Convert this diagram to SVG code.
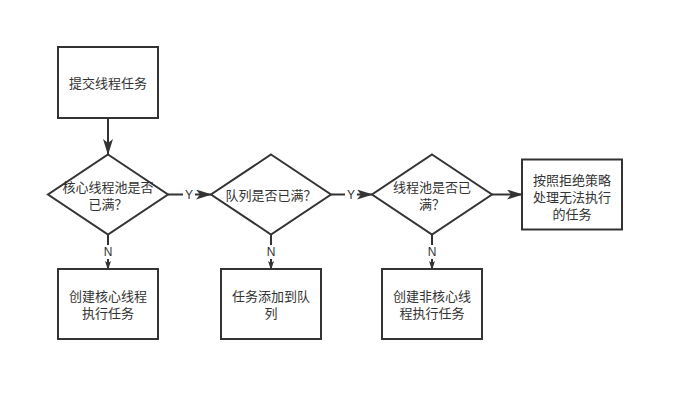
<svg xmlns="http://www.w3.org/2000/svg" width="684" height="401" viewBox="0 0 684 401">
<style>
.shape{fill:#fff;stroke:#333;stroke-width:2}
.t{font-family:"Liberation Sans","Noto Sans CJK SC",sans-serif;font-size:13px;fill:#333;text-anchor:middle;dominant-baseline:central}
.lbl{font-family:"Liberation Sans","Noto Sans CJK SC",sans-serif;font-size:12px;fill:#333;text-anchor:middle;dominant-baseline:central}
.edge{fill:none;stroke:#333;stroke-width:2}
.bg{fill:#fff}
</style>
<defs>
<marker id="big" markerUnits="userSpaceOnUse" viewBox="0 0 16 10" refX="15" refY="5" markerWidth="16" markerHeight="10" orient="auto">
<path d="M0,0 L16,5 L0,10 L4,5 Z" fill="#333"/>
</marker>
<marker id="small" markerUnits="userSpaceOnUse" viewBox="0 0 9 6" refX="8" refY="3" markerWidth="9" markerHeight="6" orient="auto">
<path d="M0,0 L9,3 L0,6 L2,3 Z" fill="#333"/>
</marker>
</defs>
<rect width="684" height="401" fill="#fff"/>
<g id="connectors">
<line class="edge" x1="108" y1="118" x2="108" y2="154" marker-end="url(#big)"/>
<line class="edge" x1="168" y1="194.5" x2="211" y2="194.5" marker-end="url(#big)"/>
<rect class="bg" x="183" y="187" width="12" height="15"/>
<text class="lbl" x="189" y="195">Y</text>
<line class="edge" x1="331" y1="194.5" x2="372" y2="194.5" marker-end="url(#big)"/>
<rect class="bg" x="345" y="187" width="12" height="15"/>
<text class="lbl" x="351" y="195">Y</text>
<line class="edge" x1="492" y1="194.5" x2="522" y2="194.5" marker-end="url(#big)"/>
<line class="edge" x1="108" y1="234" x2="108" y2="269" marker-end="url(#small)"/>
<rect class="bg" x="102" y="245" width="12" height="14"/>
<text class="lbl" x="108" y="252">N</text>
<line class="edge" x1="271" y1="234" x2="271" y2="269" marker-end="url(#small)"/>
<rect class="bg" x="265" y="245" width="12" height="14"/>
<text class="lbl" x="271" y="252">N</text>
<line class="edge" x1="432" y1="234" x2="432" y2="269" marker-end="url(#small)"/>
<rect class="bg" x="426" y="245" width="12" height="14"/>
<text class="lbl" x="432" y="252">N</text>
</g>
<g id="submit">
<rect class="shape" x="58" y="47" width="100" height="71"/>
<text class="t" x="108" y="83">提交线程任务</text>
</g>
<g id="core-full">
<polygon class="shape" points="108,154.5 168,194.5 108,234.5 48,194.5"/>
<text class="t" x="108" y="187">核心线程池是否</text>
<text class="t" x="108" y="204">已满？</text>
</g>
<g id="queue-full">
<polygon class="shape" points="271,154.5 331,194.5 271,234.5 211,194.5"/>
<text class="t" x="271" y="195">队列是否已满？</text>
</g>
<g id="pool-full">
<polygon class="shape" points="432,154.5 492,194.5 432,234.5 372,194.5"/>
<text class="t" x="432" y="187">线程池是否已</text>
<text class="t" x="432" y="204">满？</text>
</g>
<g id="reject">
<rect class="shape" x="522" y="159.5" width="100" height="70"/>
<text class="t" x="572" y="180">按照拒绝策略</text>
<text class="t" x="572" y="197">处理无法执行</text>
<text class="t" x="572" y="214">的任务</text>
</g>
<g id="create-core">
<rect class="shape" x="58" y="269" width="100" height="70"/>
<text class="t" x="108" y="296.5">创建核心线程</text>
<text class="t" x="108" y="313.5">执行任务</text>
</g>
<g id="enqueue">
<rect class="shape" x="221" y="269" width="100" height="70"/>
<text class="t" x="271" y="296.5">任务添加到队</text>
<text class="t" x="271" y="313.5">列</text>
</g>
<g id="create-noncore">
<rect class="shape" x="382" y="269" width="100" height="70"/>
<text class="t" x="432" y="296.5">创建非核心线</text>
<text class="t" x="432" y="313.5">程执行任务</text>
</g>
</svg>
